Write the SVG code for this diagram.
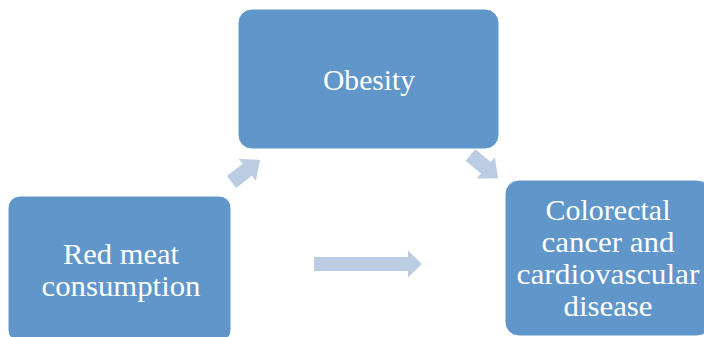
<svg xmlns="http://www.w3.org/2000/svg" width="704" height="337" viewBox="0 0 704 337">
<style>
.box{fill:#6096C9;stroke:#FFFFFF;stroke-width:1}
.lbl{font-family:"Liberation Serif","DejaVu Serif",serif;font-size:30px;fill:#FFFFFF;text-anchor:middle}
.arr{fill:#BCCCE2}
</style>
<rect width="704" height="337" fill="#FFFFFF"/>
<g id="connectors">
<polygon class="arr" points="0,-7.5 20,-7.5 20,-14 36,0 20,14 20,7.5 0,7.5" transform="translate(231.5,182) rotate(-37.7)"/>
<polygon class="arr" points="0,-7.5 20,-7.5 20,-14 36,0 20,14 20,7.5 0,7.5" transform="translate(470.5,155) rotate(40)"/>
<polygon class="arr" points="0,-7 94,-7 94,-13.5 108,0 94,13.5 94,7 0,7" transform="translate(314,264)"/>
</g>
<g id="node-red-meat">
<rect class="box" x="8" y="196" width="223" height="146" rx="12"/>
<text class="lbl" x="121" y="264" textLength="116" lengthAdjust="spacingAndGlyphs">Red meat</text>
<text class="lbl" x="121" y="296" textLength="159" lengthAdjust="spacingAndGlyphs">consumption</text>
</g>
<g id="node-obesity">
<rect class="box" x="238" y="9" width="261" height="140" rx="14"/>
<text class="lbl" x="369" y="90" textLength="92" lengthAdjust="spacingAndGlyphs">Obesity</text>
</g>
<g id="node-disease">
<rect class="box" x="505" y="180" width="206" height="156" rx="14"/>
<text class="lbl" x="608" y="220" textLength="125" lengthAdjust="spacingAndGlyphs">Colorectal</text>
<text class="lbl" x="608" y="252" textLength="133" lengthAdjust="spacingAndGlyphs">cancer and</text>
<text class="lbl" x="608" y="284" textLength="183" lengthAdjust="spacingAndGlyphs">cardiovascular</text>
<text class="lbl" x="608" y="316" textLength="89" lengthAdjust="spacingAndGlyphs">disease</text>
</g>
</svg>
